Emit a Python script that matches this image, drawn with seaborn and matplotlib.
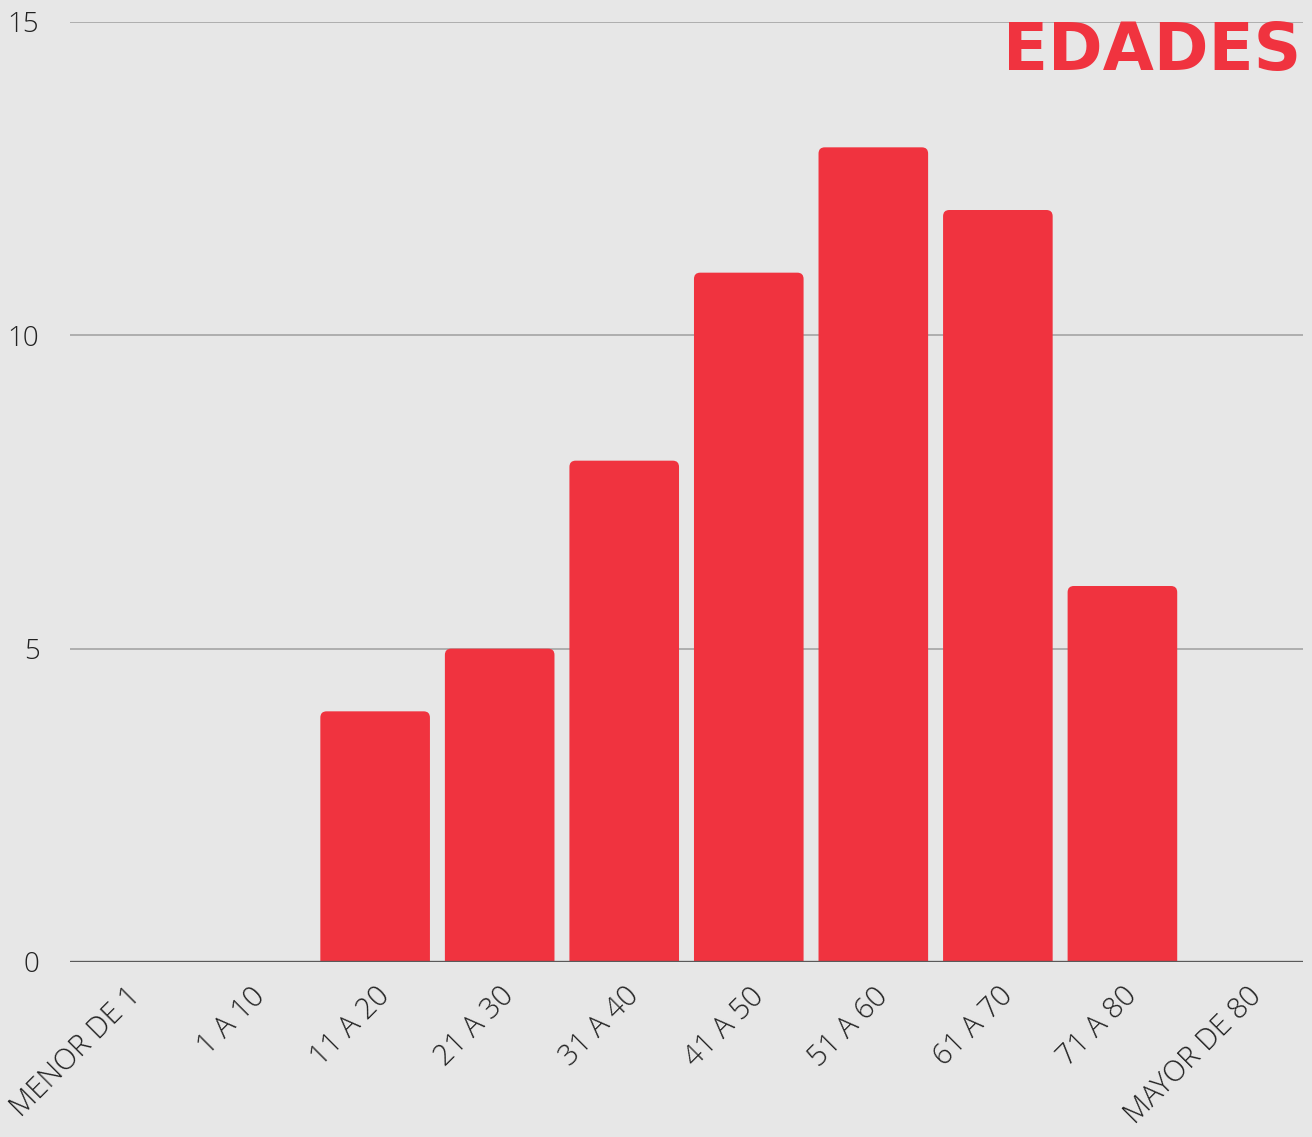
import matplotlib
matplotlib.use("Agg")
import matplotlib.pyplot as plt
from matplotlib.patches import FancyBboxPatch
import seaborn as sns
import pandas as pd

categories = ["MENOR DE 1", "1 A 10", "11 A 20", "21 A 30", "31 A 40",
              "41 A 50", "51 A 60", "61 A 70", "71 A 80", "MAYOR DE 80"]
counts = [0, 0, 4, 5, 8, 11, 13, 12, 6, 0]
y_ticks = [0, 5, 10, 15]
title = "EDADES"

RED = "#F0333F"
BG = "#E7E7E7"

sns.set_theme(style="white")
plt.rcParams["font.family"] = ["Open Sans", "DejaVu Sans"]

df = pd.DataFrame({"edad": categories, "n": counts})

fig = plt.figure(figsize=(13.12, 11.37), dpi=100, facecolor=BG)
ax = fig.add_axes([70 / 1312, 175 / 1137, 1233 / 1312, 940 / 1137])
ax.set_facecolor(BG)

sns.barplot(data=df, x="edad", y="n", color=RED, width=0.88,
            saturation=1, ax=ax, zorder=3)

# swap the flat bars for ones with softly rounded tops
for p in list(ax.patches):
    x, w, h = p.get_x(), p.get_width(), p.get_height()
    p.remove()
    if h <= 0:
        continue
    ax.add_patch(FancyBboxPatch((x, -0.3), w, h + 0.3,
                                boxstyle="round,pad=0,rounding_size=0.05",
                                mutation_aspect=2.0, facecolor=RED,
                                edgecolor="none", zorder=3))

ax.set_ylim(0, 15)
ax.set_xlim(-0.45, len(categories) - 0.55)
ax.set_yticks(y_ticks)
for v in y_ticks[1:]:
    ax.axhline(v, color="#A9A9A9", lw=1.3, zorder=1)
ax.axhline(0, color="#5A5A5A", lw=2.4, zorder=4)

for s in ax.spines.values():
    s.set_visible(False)
ax.tick_params(axis="both", length=0)
ax.tick_params(axis="y", pad=22, labelsize=20, labelcolor="#222222")
ax.tick_params(axis="x", pad=14, labelsize=21, labelcolor="#222222")
ax.set_xticks(range(len(categories)))
ax.set_xticklabels(categories, rotation=45, ha="right",
                   rotation_mode="anchor", fontweight="light")
for t in ax.get_yticklabels():
    t.set_fontweight("light")
ax.set_xlabel("")
ax.set_ylabel("")

fig.text(1301 / 1312, 1 - 70 / 1137, title, ha="right", va="baseline",
         fontsize=47.5, fontweight="bold", color=RED,
         family=["DejaVu Sans"])

fig.savefig("out.png", dpi=100, facecolor=BG)
